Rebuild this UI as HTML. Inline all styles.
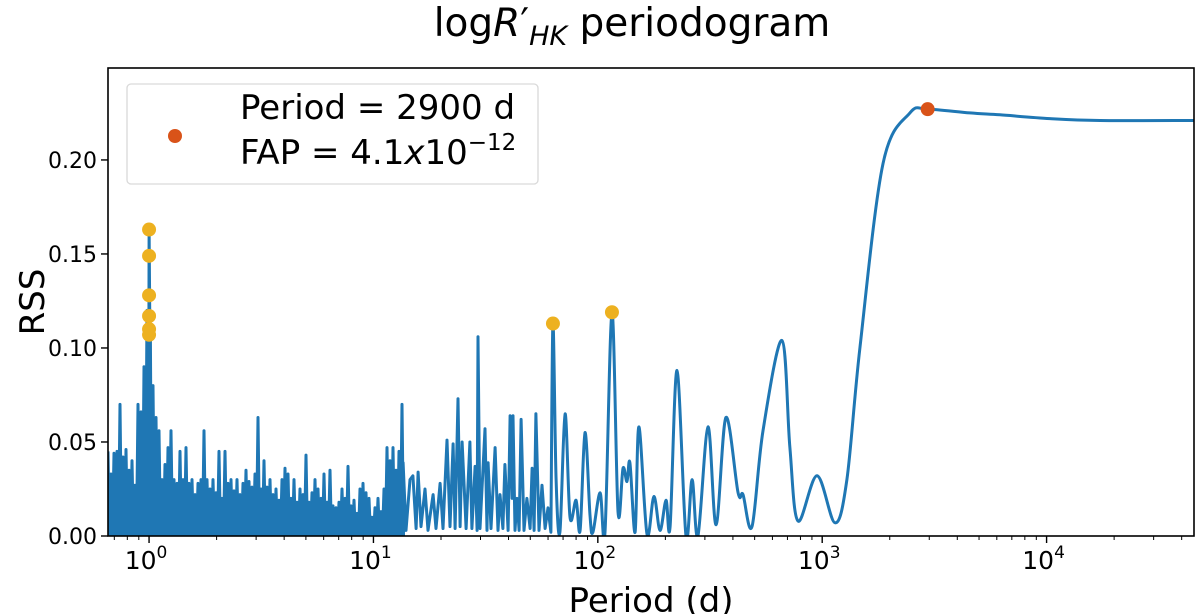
<!DOCTYPE html>
<html><head><meta charset="utf-8">
<style>
html,body{margin:0;padding:0;background:#fff;}
svg{display:block;font-family:"DejaVu Sans","Liberation Sans",sans-serif;}
</style></head>
<body>
<svg id="chart" width="1200" height="614" viewBox="0 0 1200 614" xmlns="http://www.w3.org/2000/svg">
<defs><clipPath id="plotclip"><rect x="108" y="68" width="1086" height="468"/></clipPath></defs>
<text x="632" y="36" font-size="39" text-anchor="middle">log<tspan font-style="italic">R</tspan>′<tspan font-style="italic" font-size="27" dy="9">HK</tspan><tspan dy="-9"> periodogram</tspan></text>
<text transform="translate(44,302) rotate(-90)" font-size="34" text-anchor="middle">RSS</text>
<text x="651" y="612" font-size="34" text-anchor="middle">Period (d)</text>
<g id="ticks"></g>
<g id="series" clip-path="url(#plotclip)"></g>
<g id="dots"></g>
<rect x="108" y="68" width="1086" height="468" fill="none" stroke="#000" stroke-width="1.6"/>
<g>
<rect x="127" y="84" width="411" height="100" rx="4" fill="#fff" fill-opacity="0.8" stroke="#d9d9d9" stroke-width="1.3"/>
<circle cx="175" cy="136" r="7" fill="#D95319"/>
<text x="240" y="119" font-size="34">Period = 2900 d</text>
<text x="240" y="164" font-size="34">FAP = 4.1<tspan font-style="italic">x</tspan>10<tspan font-size="23" dy="-14">−12</tspan></text>
</g>
</svg>
<script>
// dense noise region: values on an evenly log-spaced period grid
const noiseLogStart = -0.183;
const noiseLogStep = 0.01337;
const noiseVals = [.045,.033,.044,.045,.07,.042,.046,.035,.04,.027,.07,.066,.09,.12,.10,.08,.063,.056,.03,.038,.047,.056,.03,.028,.045,.03,.047,.028,.03,.022,.028,.03,.056,.03,.025,.03,.023,.045,.02,.045,.028,.03,.024,.03,.022,.028,.035,.029,.026,.033,.063,.025,.04,.026,.03,.022,.025,.019,.03,.036,.033,.02,.03,.018,.025,.022,.043,.018,.023,.03,.025,.02,.033,.018,.035,.016,.015,.018,.025,.02,.037,.016,.019,.012,.025,.028,.023,.02,.01,.015,.02,.013,.025,.047,.04,.047,.035,.045,.07];
const spikeLogP = [-0.006,0,0.006];
const spikeVals = [.11,.163,.105];
// sparse region (log10 period, RSS)
const logPeriod = [1.132,1.145,1.163,1.176,1.190,1.199,1.212,1.230,1.243,1.266,1.279,1.297,1.310,1.328,1.341,1.355,1.364,1.377,1.386,1.395,1.413,1.430,1.439,1.453,1.462,1.466,1.475,1.497,1.506,1.511,1.524,1.542,1.555,1.564,1.577,1.586,1.600,1.609,1.618,1.622,1.631,1.640,1.649,1.658,1.671,1.684,1.698,1.707,1.716,1.724,1.738,1.751,1.765,1.778,1.791,1.800,1.814,1.831,1.854,1.876,1.903,1.921,1.943,1.965,1.978,2.010,2.032,2.063,2.090,2.112,2.130,2.143,2.166,2.183,2.219,2.250,2.277,2.304,2.322,2.353,2.393,2.420,2.446,2.491,2.527,2.571,2.625,2.647,2.687,2.736,2.821,2.856,2.892,2.977,3.057,3.110,3.168,3.271,3.391,3.470,3.658,3.792,4.015,4.238,4.657];
const rss = [.039,.003,.03,.032,.004,.034,.005,.025,.003,.022,.004,.028,.004,.051,.005,.049,.004,.073,.005,.05,.004,.05,.004,.037,.003,.106,.004,.057,.003,.039,.004,.047,.003,.022,.004,.038,.003,.064,.02,.064,.003,.02,.003,.062,.003,.02,.004,.036,.003,.065,.003,.027,.004,.015,.002,.113,.03,.002,.065,.01,.019,.003,.055,.011,.002,.023,.002,.119,.013,.036,.029,.039,.002,.058,.001,.021,.003,.019,.005,.088,.0,.03,.0,.058,.006,.063,.023,.022,.005,.056,.104,.047,.008,.032,.007,.03,.1,.198,.225,.227,.225,.224,.222,.221,.221];
const smoothFrom = 1.800;
const yellowLogP = [0,0,0,0,0,0,1.800,2.063];
const yellowVals = [.163,.149,.128,.117,.110,.107,.113,.119];
const bestLogP = [3.470];
const bestVals = [.227];
const yTicks = [0,0.05,0.10,0.15,0.20];
const yTickLabels = ["0.00","0.05","0.10","0.15","0.20"];
const xMajor = [0,1,2,3,4];

const X0=108,X1=1194,Y0=536,Y1=68, LMIN=-0.183, LMAX=4.657, YMAX=0.2489;
const sx = l => X0 + (l-LMIN)/(LMAX-LMIN)*(X1-X0);
const sy = v => Y0 - v/YMAX*(Y0-Y1);
const NS="http://www.w3.org/2000/svg";
function mk(tag, attrs, parent){const e=document.createElementNS(NS,tag);for(const k in attrs)e.setAttribute(k,attrs[k]);parent.appendChild(e);return e;}

const tg=document.getElementById('ticks');
yTicks.forEach((v,i)=>{
  const l=mk('line',{x1:X0-7,x2:X0,y1:sy(v),y2:sy(v),stroke:'#000','stroke-width':1.4},tg);
  
  
  const t=mk('text',{x:X0-11,y:sy(v)+8,'font-size':22,'text-anchor':'end'},tg);
  t.textContent=yTickLabels[i];
  
  
});
for(let d=-1; d<=4; d++){
  for(let m=1;m<10;m++){
    const l10=d+Math.log10(m);
    if(l10<LMIN||l10>LMAX) continue;
    const major=(m===1);
    const ln=mk('line',{x1:sx(l10),x2:sx(l10),y1:Y0,y2:Y0+(major?7:4),stroke:'#000','stroke-width':major?1.4:1},tg);
    
    
  }
}
xMajor.forEach(d=>{
  const t=mk('text',{x:sx(d)-3,y:Y0+33,'font-size':25,'text-anchor':'middle'},tg);
  t.innerHTML='10<tspan font-size="17" dy="-11">'+d+'</tspan>';
  
  
});

let pts=[];
noiseVals.forEach((v,i)=>{
  const l=noiseLogStart+i*noiseLogStep;
  pts.push([l,v]);
  pts.push([l+noiseLogStep/2,0.0]);
});
spikeLogP.forEach((l,i)=>pts.push([l,spikeVals[i]]));
pts.sort((a,b)=>a[0]-b[0]);
let sharp=pts.map(p=>[sx(p[0]),sy(p[1])]);
let smooth=[];
logPeriod.forEach((l,i)=>{
  const p=[sx(l),sy(rss[i])];
  if(l<smoothFrom) sharp.push(p); else smooth.push(p);
});
let d='M'+sharp.map(p=>p[0].toFixed(1)+','+p[1].toFixed(1)).join('L');
const sp=[sharp[sharp.length-1]].concat(smooth);
for(let i=0;i<sp.length-1;i++){
  const p0=sp[Math.max(0,i-1)],p1=sp[i],p2=sp[i+1],p3=sp[Math.min(sp.length-1,i+2)];
  const c1=[p1[0]+(p2[0]-p0[0])/6,p1[1]+(p2[1]-p0[1])/6];
  const c2=[p2[0]-(p3[0]-p1[0])/6,p2[1]-(p3[1]-p1[1])/6];
  d+='C'+c1[0].toFixed(1)+','+c1[1].toFixed(1)+' '+c2[0].toFixed(1)+','+c2[1].toFixed(1)+' '+p2[0].toFixed(1)+','+p2[1].toFixed(1);
}
const line=mk('path',{d:d,fill:'none',stroke:'#1f77b4','stroke-width':3,'stroke-linejoin':'round'},document.getElementById('series'));



const dg=document.getElementById('dots');
yellowLogP.forEach((l,i)=>{
  const c=mk('circle',{cx:sx(l),cy:sy(yellowVals[i]),r:7,fill:'#EDB120'},dg);
  
  
});
bestLogP.forEach((l,i)=>{
  const c=mk('circle',{cx:sx(l),cy:sy(bestVals[i]),r:7,fill:'#D95319'},dg);
  
  
});
</script>
</body></html>
